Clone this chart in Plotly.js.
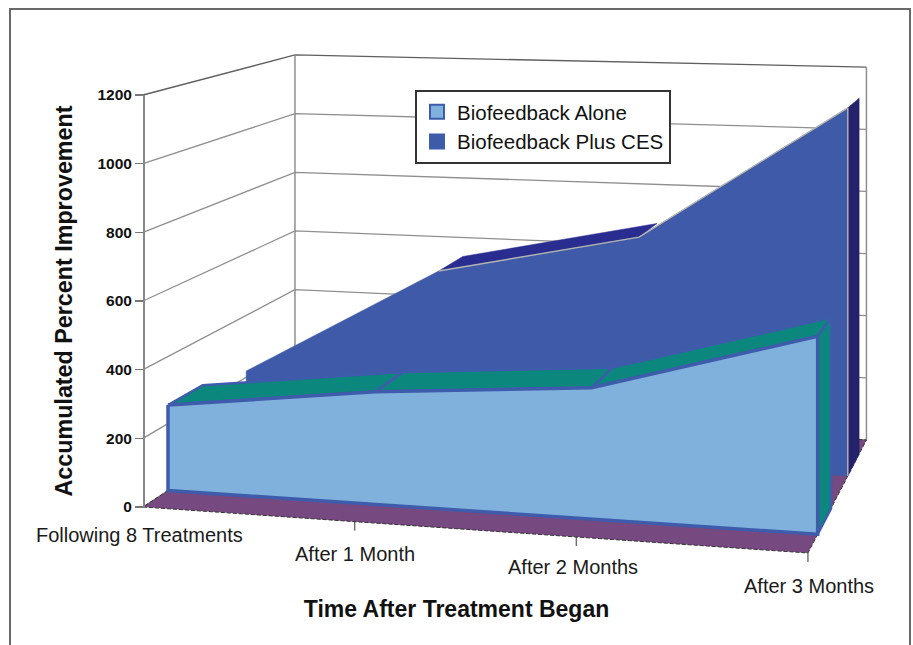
<!DOCTYPE html>
<html>
<head>
<meta charset="utf-8">
<script src="https://cdn.plot.ly/plotly-3.0.1.min.js"></script>
<style>html,body{margin:0;padding:0;background:#fff}#c{width:913px;height:645px}</style>
</head>
<body>
<div id="c"></div>
<script>
const categories = ["Following 8 Treatments", "After 1 Month", "After 2 Months", "After 3 Months"];
const aloneValues = [255, 329, 375, 553];
const plusValues = [220, 570, 702, 1120];
const valueTicks = [0, 200, 400, 600, 800, 1000, 1200];
const seriesNames = ["Biofeedback Alone", "Biofeedback Plus CES"];

// perspective camera of the 3-D box: u along time (0..1), d along depth (0..1), v = value
const CAM = {A:-0.0653, B:0.1703, X0:143, XU:612.2, XD:202.2, Y0:507, YU:9.89, YD:-30.7, S:412/1200};
function P(u, d, v) {
  const W = 1 + CAM.A*u + CAM.B*d;
  return [(CAM.X0 + CAM.XU*u + CAM.XD*d)/W, (CAM.Y0 + CAM.YU*u + CAM.YD*d - CAM.S*v)/W];
}
const U = i => i/(categories.length-1);
const FONT = "Liberation Sans, Arial, sans-serif";
const C = {alone:"#7fb1dc", plus:"#3e5aa8", edge:"#3f5bab", teal:"#0b877d", floor:"#764a80",
           navyTop:"#2a2d90", navySide:"#25226c", grid:"#8f8f8f", dark:"#333333"};
const PLOT_H = 590;
const traces = [];
function poly(pts, fill, line, width, dash) {
  traces.push({type:"scatter", mode:"lines", x:pts.map(p=>p[0]), y:pts.map(p=>p[1]),
    fill:fill?"toself":"none", fillcolor:fill||undefined,
    line:{color:line||fill, width:width===undefined?1:width, dash:dash||"solid"},
    hoverinfo:"skip", showlegend:false, xaxis:"x", yaxis:"y"});
}
// walls
valueTicks.forEach((t,i) => {
  const col = i===valueTicks.length-1 ? "#5f5f5f" : C.grid;
  poly([P(0,0,t), P(0,1,t), P(1,1,t)], null, col, 1.3);
});
const maxTick = valueTicks[valueTicks.length-1];
poly([P(0,1,0), P(0,1,maxTick)], null, C.grid, 1.5);
poly([P(1,1,0), P(1,1,maxTick)], null, C.grid, 1.5);
// floor
poly([P(0,0,0), P(1,0,0), P(1,1,0), P(0,1,0), P(0,0,0)], C.floor, C.dark, 1, "4px,2px");
// x ticks
categories.forEach((c,i) => { if(i>0){ const p=P(U(i),0,0); poly([p,[p[0],p[1]+9]], null, C.dark, 1); }});

function front(vals, d){
  const pts = vals.map((v,i)=>P(U(i),d,v));
  for(let i=vals.length-1;i>=0;i--) pts.push(P(U(i),d,0));
  pts.push(pts[0]);
  return pts;
}
// rear series: Biofeedback Plus CES
const PD = [0.644, 0.856];
const n = plusValues.length;
poly([P(1,PD[0],plusValues[n-1]),P(1,PD[1],plusValues[n-1]),P(1,PD[1],0),P(1,PD[0],0),P(1,PD[0],plusValues[n-1])], C.navySide, C.navySide, 0.5);
poly([P(U(1),PD[0],plusValues[1]),P(U(1),PD[1],plusValues[1]),P(U(2),PD[1],plusValues[2]),P(U(2),PD[0],plusValues[2]),P(U(1),PD[0],plusValues[1])], C.navyTop, C.navyTop, 0.5);
poly(front(plusValues, PD[0]), C.plus, C.plus, 0.5);
poly([P(U(1),PD[0],plusValues[1]),P(U(2),PD[0],plusValues[2]),P(U(3),PD[0],plusValues[3]),P(U(3),PD[0],0)], null, "#b4b4ae", 1.4);
// front series: Biofeedback Alone
const AD = [0.144, 0.356];
for(let i=0;i<n-1;i++){
  poly([P(U(i),AD[0],aloneValues[i]),P(U(i),AD[1],aloneValues[i]),P(U(i+1),AD[1],aloneValues[i+1]),P(U(i+1),AD[0],aloneValues[i+1]),P(U(i),AD[0],aloneValues[i])], C.teal, C.edge, 2.5);
}
poly([P(1,AD[0],aloneValues[n-1]),P(1,AD[1],aloneValues[n-1]),P(1,AD[1],0),P(1,AD[0],0),P(1,AD[0],aloneValues[n-1])], C.teal, C.edge, 2.5);
poly(front(aloneValues, AD[0]), C.alone, C.edge, 3.5);

// legend entries and value axis
const swatch = [C.alone, C.plus];
seriesNames.forEach((name,i)=>{
  traces.push({type:"scatter", mode:"markers", name:name, x:[null], y:[null], xaxis:"x", yaxis:"y2",
    marker:{symbol:"square", size:14, color:swatch[i], line:{color:C.edge, width:2}}, hoverinfo:"skip"});
});
// category labels
const nudge = [[-4,28],[0,32],[-3,30],[1,33]];
const annotations = categories.map((c,i)=>{
  const p = P(U(i),0,0);
  return {x:p[0]+nudge[i][0], y:p[1]+nudge[i][1], xref:"x", yref:"y", text:c, showarrow:false,
    xanchor:"center", yanchor:"middle", font:{family:FONT, size:20, color:"#1a1a1a"}};
});
const layout = {
  width:913, height:645, margin:{l:0,r:0,t:0,b:645-PLOT_H,pad:0}, paper_bgcolor:"#fff", plot_bgcolor:"rgba(0,0,0,0)",
  xaxis:{range:[0,913], showgrid:false, zeroline:false, showticklabels:false, ticks:"", showline:false,
    title:{text:"Time After Treatment Began", standoff:10, font:{family:FONT, size:23, color:"#111", weight:"bold"}}, fixedrange:true},
  yaxis:{range:[PLOT_H,0], domain:[0,1], showgrid:false, zeroline:false, showticklabels:false, ticks:"", showline:false, fixedrange:true},
  yaxis2:{range:[0,1200], domain:[1-507/PLOT_H, 1-95/PLOT_H], anchor:"free", position:143/913, side:"left",
    tickvals:valueTicks, ticks:"outside", ticklen:8, tickcolor:"#777", tickwidth:1.3, showline:true, linecolor:"#888", linewidth:1.6,
    showgrid:false, zeroline:false, tickfont:{family:FONT, size:15.5, color:"#111", weight:"bold"},
    title:{text:"Accumulated Percent Improvement", standoff:16, font:{family:FONT, size:23.3, color:"#111", weight:"bold"}}, fixedrange:true},
  legend:{x:415/913, y:1-90/PLOT_H, xanchor:"left", yanchor:"top", bgcolor:"#fff", bordercolor:"#333", borderwidth:2,
    font:{family:FONT, size:20.5, color:"#111"}, tracegroupgap:0},
  annotations:annotations,
  shapes:[{type:"path", xref:"paper", yref:"paper", path:`M ${10/913} ${1-645/PLOT_H} L ${10/913} ${1-9/PLOT_H} L ${910/913} ${1-9/PLOT_H} L ${910/913} ${1-645/PLOT_H}`, line:{color:"#6a6a6a", width:2}, layer:"below"}]
};
Plotly.newPlot("c", traces, layout, {displayModeBar:false, responsive:false, staticPlot:true});
</script>
</body>
</html>
